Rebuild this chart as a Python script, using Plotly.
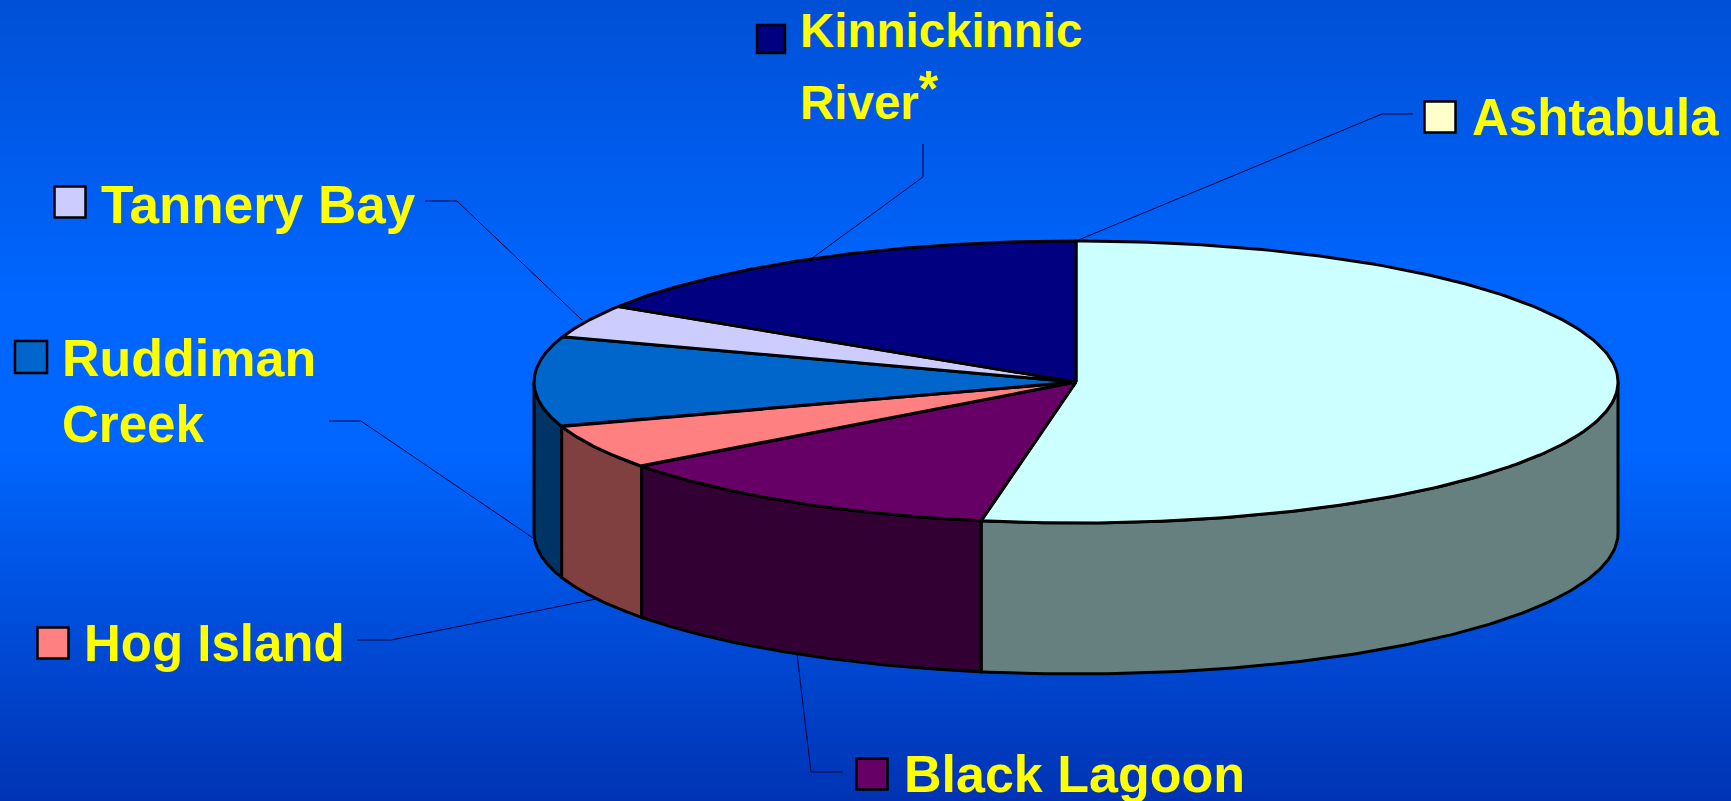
import numpy as np
import plotly.graph_objects as go

# ---- data (percent shares) ----
categories = ["Ashtabula", "Black Lagoon", "Hog Island", "Ruddiman Creek", "Tannery Bay", "Kinnickinnic River*"]
values = [52.8, 12.0, 5.1, 10.3, 3.8, 16.0]
top_colors = ["#CCFFFF", "#660066", "#FF8080", "#0066CC", "#CCCCFF", "#000080"]
side_colors = ["#668080", "#330033", "#804040", "#003366", "#666680", "#000040"]
legend_colors = ["#FFFFCC", "#660066", "#FF8080", "#0066CC", "#CCCCFF", "#000080"]

W, H = 1731, 801
CX, CY, RX, RY, DEPTH = 1076, 382, 542, 141, 151

fig = go.Figure()

# background gradient
grad_y = [-100, 0, 100, 200, 300, 400, 500, 600, 700, 801, 900]
bg_scale = [[0.0, "#0050D6"], [0.37, "#0066FF"], [0.56, "#0066FF"], [1.0, "#0033B3"]]
fig.add_trace(go.Heatmap(
    x=[-100, 1900], y=grad_y, z=[[v, v] for v in grad_y],
    colorscale=bg_scale, zmin=0, zmax=801, zsmooth="best", showscale=False, hoverinfo="skip"))


def pt(theta_deg, dy=0.0):
    t = np.radians(np.asarray(theta_deg, dtype=float))
    return CX + RX * np.sin(t), CY - RY * np.cos(t) + dy


cum = np.concatenate([[0], np.cumsum(values)])
edges = cum / cum[-1] * 360
OUT = dict(color="black", width=3)

# leader lines
leaders = [
    [(1413, 114), (1382, 114), (1076, 241)],
    [(843, 772), (811, 772), (797, 654)],
    [(357, 640), (391, 640), (596, 599)],
    [(329, 421), (361, 421), (533, 538)],
    [(425, 201), (457, 201), (582, 320)],
    [(923, 144), (923, 177), (811, 259)],
]
for seg in leaders:
    fig.add_trace(go.Scatter(x=[p[0] for p in seg], y=[p[1] for p in seg], mode="lines",
                             line=dict(color="#00003C", width=1), hoverinfo="skip"))

# side walls (front half only)
for i in range(len(values)):
    a, b = max(edges[i], 90), min(edges[i + 1], 270)
    if b <= a:
        continue
    th = np.linspace(a, b, 120)
    xt, yt = pt(th)
    xb, yb = pt(th[::-1], DEPTH)
    fig.add_trace(go.Scatter(x=np.r_[xt, xb, xt[0]], y=np.r_[yt, yb, yt[0]], mode="lines", fill="toself",
                             fillcolor=side_colors[i], line=OUT, hoverinfo="skip"))

# top slices
for i in range(len(values)):
    th = np.linspace(edges[i], edges[i + 1], 200)
    x, y = pt(th)
    fig.add_trace(go.Scatter(x=np.r_[CX, x, CX], y=np.r_[CY, y, CY], mode="lines", fill="toself",
                             fillcolor=top_colors[i], line=OUT, hoverinfo="skip", name=categories[i]))

# legend swatches and labels
swatch_x = [1440, 872, 53, 31, 70, 771]
swatch_y = [117, 774, 643, 357, 202, 39]
swatch_size = [31, 31, 31, 32, 31, 28]
fig.add_trace(go.Scatter(x=swatch_x, y=swatch_y, mode="markers", hoverinfo="skip",
                         marker=dict(symbol="square", size=swatch_size, color=legend_colors, opacity=1,
                                     line=dict(color="black", width=2.5))))

label_text = ["Ashtabula", "Black Lagoon", "Hog Island", "Ruddiman", "Creek", "Tannery Bay", "Kinnickinnic",
              'River<span style="baseline-shift:13px;font-size:50px">*</span>']
label_x = [1472, 904, 84, 62, 62, 101, 800, 800]
label_y = [122, 779, 648, 363, 429, 210, 35, 107]
label_size = [51, 52, 51, 52, 51, 53, 47.5, 47.5]
fig.add_trace(go.Scatter(x=label_x, y=label_y, mode="text", text=label_text, textposition="middle right",
                         hoverinfo="skip", cliponaxis=False,
                         textfont=dict(family="Liberation Sans", size=label_size, color="#FFFF00", weight="bold")))

fig.update_layout(
    width=W, height=H, margin=dict(l=0, r=0, t=0, b=0), showlegend=False,
    paper_bgcolor="#0066FF", plot_bgcolor="#0066FF",
    xaxis=dict(range=[0, W], visible=False, fixedrange=True),
    yaxis=dict(range=[H, 0], visible=False, fixedrange=True),
)

fig.write_html("out.html", config={"displayModeBar": False},
               post_script="document.body.style.margin='0';document.body.style.overflow='hidden';")
